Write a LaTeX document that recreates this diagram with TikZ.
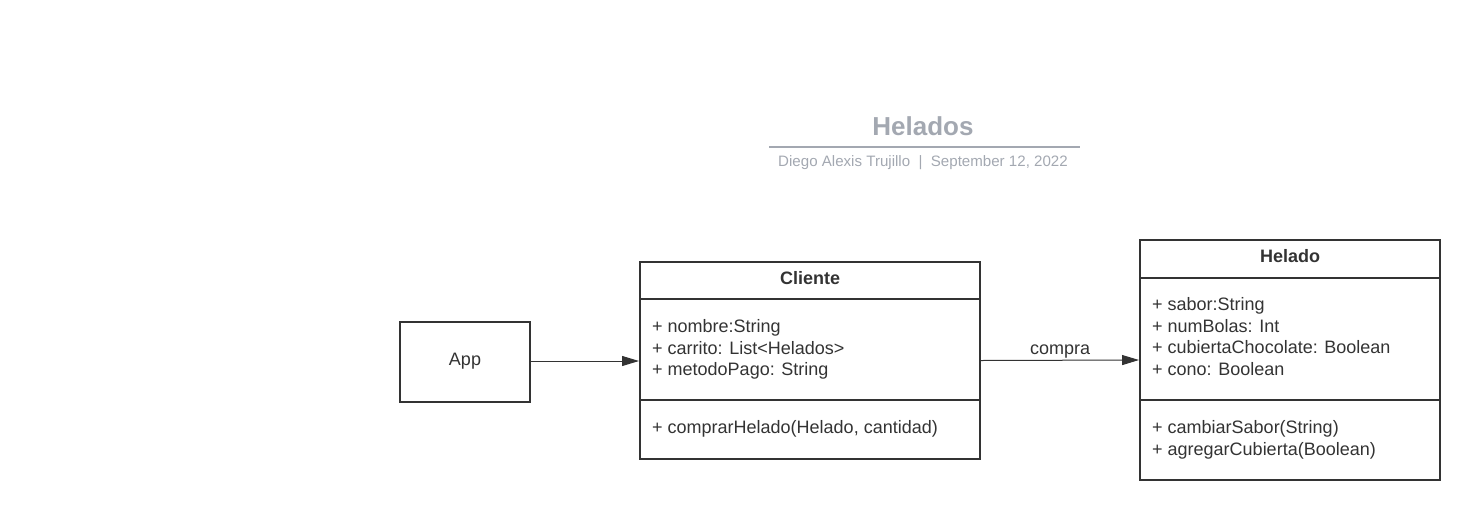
\documentclass[tikz,border=0pt]{standalone}
\usepackage{fontspec}
\setmainfont{Liberation Sans}
\usetikzlibrary{arrows.meta}
\definecolor{ink}{HTML}{333333}
\definecolor{ttl}{HTML}{A3A8B1}
\tikzset{
  classbox/.style={draw=ink, line width=2pt, minimum width=#1, inner sep=0pt},
  txt/.style={anchor=west, inner sep=0pt, text=ink, font=\fontsize{18}{21}\selectfont, text height=13pt, text depth=4pt},
  hdr/.style={inner sep=0pt, text=ink, font=\bfseries\fontsize{18}{21}\selectfont},
  divider/.style={draw=ink, line width=2pt},
  conn/.style={draw=ink, line width=1pt, -{Triangle[length=17pt,width=10pt]}}
}
\begin{document}
\begin{tikzpicture}[x=1pt,y=-1pt]
\useasboundingbox (0,0) rectangle (1480,520);
% title
\node[text=ttl, font=\bfseries\fontsize{26}{30}\selectfont, inner sep=0pt] (title) at (923,126) {Helados};
\coordinate (tl) at (769,147);
\coordinate (tr) at (1080,147);
\draw[draw=ttl, line width=2pt] (tl) -- (tr);
\node[text=ttl, font=\fontsize{15.1}{17}\selectfont, inner sep=0pt] (sub) at (923,162.5) {Diego Alexis Trujillo \ | \ September 12, 2022};
% App
\node[classbox=130pt, minimum height=80pt] (app) at (465,362) {};
\node[txt, anchor=center] (appT) at (465,361) {App};
% Cliente
\node[classbox=340pt, minimum height=197pt] (cliente) at (810,360.5) {};
\draw[divider] (640,299) -- (980,299);
\draw[divider] (640,400) -- (980,400);
\node[hdr] (clienteT) at (810,278) {Cliente};
\node[txt] (c1) at (652,328) {+ nombre:String};
\node[txt] (c2) at (652,349.5) {+ carrito: List<Helados>};
\node[txt] (c3) at (652,371) {+ metodoPago: String};
\node[txt] (c4) at (652,429) {+ comprarHelado(Helado, cantidad)};
% Helado
\node[classbox=300pt, minimum height=240pt] (helado) at (1290,360) {};
\draw[divider] (1140,278) -- (1440,278);
\draw[divider] (1140,400) -- (1440,400);
\node[hdr] (heladoT) at (1290,256) {Helado};
\node[txt] (h1) at (1152,306) {+ sabor:String};
\node[txt] (h2) at (1152,327.5) {+ numBolas: Int};
\node[txt] (h3) at (1152,349) {+ cubiertaChocolate: Boolean};
\node[txt] (h4) at (1152,370.5) {+ cono: Boolean};
\node[txt] (h5) at (1152,429) {+ cambiarSabor(String)};
\node[txt] (h6) at (1152,450.5) {+ agregarCubierta(Boolean)};
% connectors
\coordinate (a1) at (app.east |- 0,361);
\draw[conn] (a1) -- (a1 -| cliente.west);
\draw[conn] (cliente.east) -- node[above=2pt, text=ink, font=\fontsize{18}{21}\selectfont, inner sep=0pt] (lbl) {compra} (helado.west);
\end{tikzpicture}
\end{document}
